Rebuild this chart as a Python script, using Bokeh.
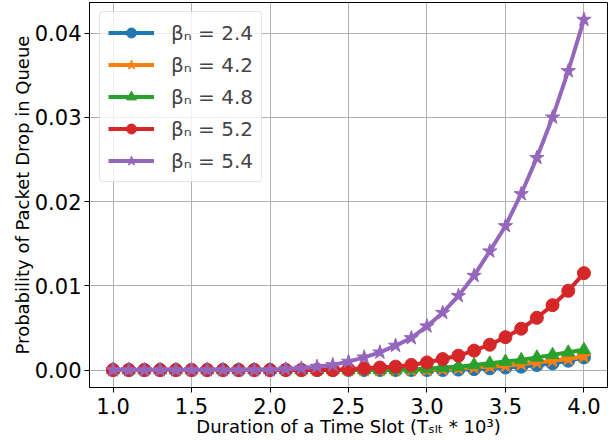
from bokeh.plotting import figure
from bokeh.models import Range1d, FixedTicker, PrintfTickFormatter
from bokeh.embed import file_html
from bokeh.resources import INLINE

x_vals = [1.0, 1.1, 1.2, 1.3, 1.4, 1.5, 1.6, 1.7, 1.8, 1.9, 2.0,
          2.1, 2.2, 2.3, 2.4, 2.5, 2.6, 2.7, 2.8, 2.9, 3.0,
          3.1, 3.2, 3.3, 3.4, 3.5, 3.6, 3.7, 3.8, 3.9, 4.0]

beta_24 = [0, 0, 0, 0, 0, 0, 0, 0, 0, 0, 0,
           0, 0, 0, 0, 0, 0, 0, 0, 0, 0,
           0, 0.00005, 0.0001, 0.0002, 0.0003, 0.0004, 0.0006, 0.0008, 0.0011, 0.0015]
beta_42 = [0, 0, 0, 0, 0, 0, 0, 0, 0, 0, 0,
           0, 0, 0, 0, 0, 0, 0, 0, 0, 0,
           0.0001, 0.0002, 0.0003, 0.0004, 0.0005, 0.0007, 0.0009, 0.0011, 0.0013, 0.0016]
beta_48 = [0, 0, 0, 0, 0, 0, 0, 0, 0, 0, 0,
           0, 0, 0, 0, 0, 0, 0, 0, 0.0001, 0.00015,
           0.0003, 0.0004, 0.0006, 0.0008, 0.0010, 0.0012, 0.0015, 0.0018, 0.0021, 0.0024]
beta_52 = [0, 0, 0, 0, 0, 0, 0, 0, 0, 0, 0,
           0, 0, 0, 0, 0.0001, 0.0002, 0.0003, 0.0004, 0.0006, 0.0009,
           0.0013, 0.0017, 0.0023, 0.0030, 0.0039, 0.0049, 0.0062, 0.0077, 0.0094, 0.0115]
beta_54 = [0, 0, 0, 0, 0, 0, 0, 0, 0, 0, 0,
           0.0001, 0.0002, 0.0004, 0.0006, 0.0010, 0.0015, 0.0021, 0.0029, 0.0038, 0.0052,
           0.0068, 0.0088, 0.0112, 0.0141, 0.0171, 0.0209, 0.0252, 0.0300, 0.0355, 0.0416]

series_labels = ["βₙ = 2.4", "βₙ = 4.2", "βₙ = 4.8", "βₙ = 5.2", "βₙ = 5.4"]
series_values = [beta_24, beta_42, beta_48, beta_52, beta_54]
series_colors = ["#1f77b4", "#ff7f0e", "#2ca02c", "#d62728", "#9467bd"]
series_markers = ["circle", "star", "triangle", "circle", "star"]
series_sizes = [13, 15, 13, 13, 15]

x_ticks = [1.0, 1.5, 2.0, 2.5, 3.0, 3.5, 4.0]
y_ticks = [0.0, 0.01, 0.02, 0.03, 0.04]

x_label = "Duration of a Time Slot (Tₛₗₜ * 10³)"
y_label = "Probability of Packet Drop in Queue"

FONT = "DejaVu Sans"

p = figure(width=611, height=440, output_backend="svg", toolbar_location=None,
           x_range=Range1d(0.85, 4.15), y_range=Range1d(-0.002076, 0.04363),
           min_border_left=89, min_border_right=4, min_border_top=2, min_border_bottom=53)

for lab, vals, col, mk, sz in zip(series_labels, series_values, series_colors, series_markers, series_sizes):
    p.line(x_vals, vals, line_width=4, line_color=col, legend_label=lab)
    p.scatter(x_vals, vals, marker=mk, size=sz, fill_color=col, line_color=col, legend_label=lab)

p.xaxis.ticker = FixedTicker(ticks=x_ticks)
p.yaxis.ticker = FixedTicker(ticks=y_ticks)
p.xaxis.formatter = PrintfTickFormatter(format="%.1f")
p.yaxis.formatter = PrintfTickFormatter(format="%.2f")

for ax in [p.xaxis[0], p.yaxis[0]]:
    ax.major_label_text_font = FONT
    ax.major_label_text_font_size = "21px"
    ax.major_label_text_color = "black"
    ax.axis_label_text_font = FONT
    ax.axis_label_text_font_size = "18px"
    ax.axis_label_text_font_style = "normal"
    ax.axis_label_text_color = "black"
    ax.axis_line_color = "black"
    ax.major_tick_line_color = "black"
    ax.major_tick_out = 5
    ax.major_tick_in = 0
    ax.minor_tick_line_color = None

p.xaxis.axis_label = x_label
p.yaxis.axis_label = y_label
p.xaxis.major_label_standoff = 5
p.xaxis.axis_label_standoff = -1
p.yaxis.major_label_standoff = 3
p.yaxis.axis_label_standoff = -1

p.grid.grid_line_color = "#b0b0b0"
p.grid.grid_line_width = 1

p.outline_line_color = "black"
p.outline_line_width = 1
p.outline_line_alpha = 1
p.background_fill_color = "white"
p.border_fill_color = "white"

lg = p.legend[0]
lg.location = (10, 205)
lg.label_text_font = FONT
lg.label_text_font_size = "20px"
lg.glyph_width = 46
lg.glyph_height = 25
lg.label_height = 25
lg.spacing = 7
lg.padding = 8
lg.label_standoff = 17
lg.border_line_color = "#cccccc"
lg.border_line_width = 1
lg.border_radius = 4
lg.background_fill_color = "white"
lg.background_fill_alpha = 0.8

open("out.html", "w").write(file_html(p, INLINE))
